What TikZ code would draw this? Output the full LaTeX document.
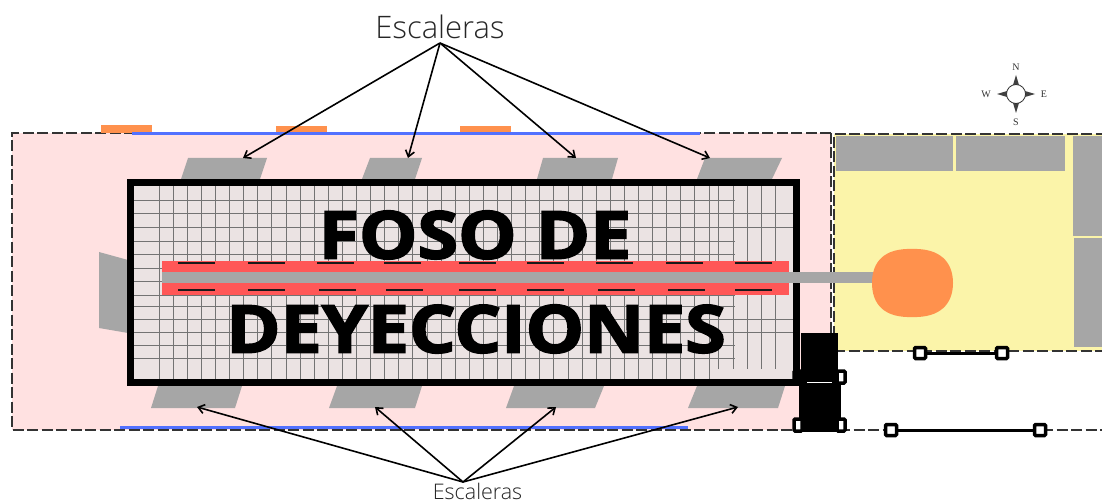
\documentclass[tikz,border=0pt]{standalone}
\usepackage{fontspec}
\setmainfont{Liberation Serif}
\newfontfamily\labelfont{Open Sans Light}
\newfontfamily\titlefont[BoldFeatures={FakeBold=2.5}]{Open Sans}
\usetikzlibrary{arrows.meta}
\definecolor{pinkfloor}{HTML}{FFE1E1}
\definecolor{yellowfloor}{HTML}{FBF4A9}
\definecolor{pitfloor}{HTML}{EBE3E3}
\definecolor{stairgray}{HTML}{A6A6A6}
\definecolor{redband}{HTML}{FF5757}
\definecolor{orangepad}{HTML}{FF914D}
\definecolor{bluewall}{HTML}{5271FF}
\definecolor{dashline}{HTML}{333333}
\tikzset{
  limit/.style={dash pattern=on 11pt off 3.5pt,draw=dashline,line width=1.4pt},
  stair/.style={fill=stairgray},
  gridline/.style={draw=black!55,line width=0.8pt},
  callout/.style={-{Straight Barb[length=6pt,width=9pt]},line width=1.6pt},
  slot/.style={line width=2pt,draw=black!90},
  post/.style={draw=black,fill=white,line width=3.5pt,rounded corners=1pt,minimum size=11pt,inner sep=0pt},
  sidepost/.style={post,minimum width=8pt,minimum height=12pt},
  titletext/.style={xscale=1.115,inner sep=0pt},
  rail/.style={line width=3pt},
}

\begin{document}
\begin{tikzpicture}[x=1pt,y=-1pt]
  \useasboundingbox (0,0) rectangle (1102,502);

  % floors
  \fill[pinkfloor] (12,133) rectangle (831,430);
  \draw[limit] (831,133) -- (12,133) -- (12,430) -- (1102,430);
  \draw[limit] (831,133) -- (831,430);
  \fill[yellowfloor] (834,134) rectangle (1102,351);
  \draw[limit] (834,351) -- (834,134) -- (1102,134);
  \draw[limit] (834,351) -- (1102,351);

  % gray blocks on the right
  \fill[stairgray] (836,136) rectangle (953,171);
  \fill[stairgray] (956,136) rectangle (1065,171);
  \fill[stairgray] (1073,136) rectangle (1102,236);
  \fill[stairgray] (1074,238) rectangle (1102,347);

  % walls
  \fill[orangepad] (101,125) rectangle (152,133);
  \fill[orangepad] (276,126) rectangle (327,133);
  \fill[orangepad] (460,126) rectangle (511,133);
  \fill[bluewall] (132,132) rectangle (700,135.5);
  \fill[bluewall] (120,425.5) rectangle (688,429);

  % stairs
  \fill[stair] (188,158) -- (267,158) -- (260,179) -- (181,179) -- cycle;
  \fill[stair] (370,158) -- (422,158) -- (415,179) -- (362,179) -- cycle;
  \fill[stair] (543,158) -- (618,158) -- (612,179) -- (537,179) -- cycle;
  \fill[stair] (705,158) -- (782,158) -- (772,179) -- (697,179) -- cycle;
  \fill[stair] (158,386) -- (242,386) -- (235,408) -- (151,408) -- cycle;
  \fill[stair] (337,386) -- (422,386) -- (415,408) -- (329,408) -- cycle;
  \fill[stair] (514,386) -- (604,386) -- (595,408) -- (506,408) -- cycle;
  \fill[stair] (697,386) -- (785,386) -- (778,408) -- (688,408) -- cycle;
  \fill[stair] (99,252) -- (128,260) -- (128,333) -- (99,328) -- cycle;

  % pit
  \fill[pitfloor] (128,180) rectangle (799,385);
  \foreach \x in {0,...,39}
    \draw[gridline] ({159+14.1*\x},186) -- ({159+14.1*\x},380);
  \foreach \x in {718,733,747,761,775}
    \draw[gridline] (\x,186) -- (\x,369);
  \foreach \y in {200,213,227,241,254,268,281,295,306,319,332,345,358}
    \draw[gridline] (133,\y) -- (735,\y);
  \foreach \y in {213,227,319,332}
    \draw[gridline] (735,\y) -- (793,\y);
  \draw[line width=7pt] (130.5,182.5) rectangle (796.5,382.5);

  % central channel
  \fill[redband] (162,261) rectangle (789,295);
  \foreach \x in {178,248,317,384,459,527,596,666,735}
    \draw[slot] (\x,263.5) -- ++(37,0);
  \foreach \x in {178,248,319,386,459,527,598,668,735}
    \draw[slot] (\x,290.5) -- ++(37,0);
  \fill[stairgray] (162,272) rectangle (875,283);
  \fill[orangepad] (912,249) .. controls (940,248) and (953,262) .. (953,283)
    .. controls (953,304) and (940,318) .. (912,317)
    .. controls (884,318) and (872,304) .. (872,283)
    .. controls (872,262) and (884,248) .. (912,249);

  % title
  \node[titletext] (foso) at (475,235) {\titlefont\bfseries\fontsize{66}{66}\selectfont FOSO DE};
  \node[titletext] (deyecciones) at (476,329) {\titlefont\bfseries\fontsize{66}{66}\selectfont DEYECCIONES};

  % machine
  \fill (801,333) rectangle (838,372);
  \fill (799,372) rectangle (841,432);
  \draw[white,line width=0.8pt] (807,382) -- (832,382);
  \node[sidepost] (postA) at (841,377) {};
  \node[sidepost] (postB) at (798,425) {};
  \node[sidepost] (postC) at (841,425) {};
  \node[sidepost,fill=black] (postD) at (798,377) {};

  % gates
  \node[post] (gateA) at (920,353) {};
  \node[post] (gateB) at (1002,353) {};
  \draw[rail] (gateA) -- (gateB);
  \node[post] (gateC) at (891,430) {};
  \node[post] (gateD) at (1040,430) {};
  \draw[rail] (gateC) -- (gateD);

  % labels and arrows
  \node[text=black!85] (topstairs) at (440,27) {\labelfont\fontsize{31}{31}\selectfont Escaleras};
  \node[text=black!85,inner sep=0pt] (botstairs) at (477.5,491) {\labelfont\fontsize{21.5}{21.5}\selectfont Escaleras};
  \coordinate (topsrc) at (440,43);
  \coordinate (botsrc) at (463,482);
  \coordinate (stairA) at (243,158);
  \coordinate (stairB) at (408,158);
  \coordinate (stairC) at (576,158);
  \coordinate (stairD) at (710,158);
  \coordinate (stairE) at (197,407);
  \coordinate (stairF) at (375,407);
  \coordinate (stairG) at (556,407);
  \coordinate (stairH) at (738,407);
  \foreach \p in {stairA,stairB,stairC,stairD}
    \draw[callout] (topsrc) -- (\p);
  \foreach \p in {stairE,stairF,stairG,stairH}
    \draw[callout] (botsrc) -- (\p);

  % compass
  \fill[black!75] (1016,75) -- (1019,85) -- (1013,85) -- cycle;
  \fill[black!75] (1016,113) -- (1019,103) -- (1013,103) -- cycle;
  \fill[black!75] (997,94) -- (1007,91) -- (1007,97) -- cycle;
  \fill[black!75] (1035,94) -- (1025,91) -- (1025,97) -- cycle;
  \draw[black!80,fill=white,line width=0.8pt] (1016,94) circle [radius=9.5];
  \node[text=black!80] (north) at (1016,67) {\fontsize{10}{10}\selectfont N};
  \node[text=black!80] (south) at (1016,122) {\fontsize{10}{10}\selectfont S};
  \node[text=black!80] (west) at (986,94) {\fontsize{10}{10}\selectfont W};
  \node[text=black!80] (east) at (1044,94) {\fontsize{10}{10}\selectfont E};
\end{tikzpicture}
\end{document}
